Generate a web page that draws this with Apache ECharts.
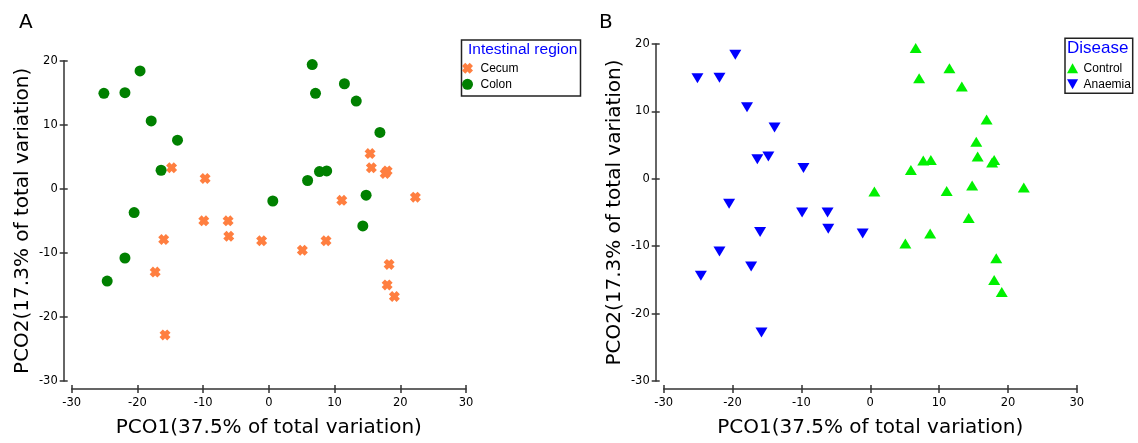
<!DOCTYPE html>
<html><head><meta charset="utf-8">
<script src="https://cdn.jsdelivr.net/npm/echarts@6/dist/echarts.min.js"></script>
<style>html,body{margin:0;padding:0;background:#fff}#c{width:1138px;height:443px}</style>
</head><body><div id="c"></div>
<script>
// ---- data ----
const panelLabels = ['A', 'B'];
const legendTitles = ['Intestinal region', 'Disease'];
const groupsA = ['Cecum', 'Colon'];
const groupsB = ['Control', 'Anaemia'];
const xName = 'PCO1(37.5% of total variation)';
const yName = 'PCO2(17.3% of total variation)';
const xRange = [-30, 30];
const yRange = [-30, 20];
const tickStep = 10;

// Panel A
const cecum = [[-14.8,3.3],[-9.7,1.6],[-9.9,-5.0],[-6.2,-5.0],[-6.1,-7.4],[-1.1,-8.1],[-16.0,-7.9],[-17.3,-13.0],[-15.8,-22.8],
  [15.4,5.5],[15.6,3.3],[17.7,2.4],[18.0,2.8],[11.1,-1.8],[22.3,-1.3],[5.1,-9.6],[8.7,-8.1],[18.3,-11.8],[18.0,-15.0],[19.1,-16.8]];
const colon = [[-25.1,14.9],[-21.9,15.0],[-19.6,18.4],[-17.9,10.6],[-13.9,7.6],[-16.4,2.9],[-20.5,-3.7],[-21.9,-10.8],[-24.6,-14.4],
  [0.6,-1.9],[5.9,1.3],[7.7,2.7],[8.8,2.8],[14.8,-1.0],[14.3,-5.8],[6.6,19.4],[11.5,16.4],[7.1,14.9],[13.3,13.7],[16.9,8.8]];
// Panel B
const control = [[0.6,-1.9],[5.9,1.3],[7.7,2.7],[8.8,2.8],[14.8,-1.0],[14.3,-5.8],[6.6,19.4],[11.5,16.4],[7.1,14.9],[13.3,13.7],[16.9,8.8],
  [15.4,5.5],[15.6,3.3],[17.7,2.4],[18.0,2.8],[11.1,-1.8],[22.3,-1.3],[5.1,-9.6],[8.7,-8.1],[18.3,-11.8],[18.0,-15.0],[19.1,-16.8]];
const anaemia = [[-25.1,14.9],[-21.9,15.0],[-19.6,18.4],[-17.9,10.6],[-13.9,7.6],[-16.4,2.9],[-20.5,-3.7],[-21.9,-10.8],[-24.6,-14.4],
  [-14.8,3.3],[-9.7,1.6],[-9.9,-5.0],[-6.2,-5.0],[-6.1,-7.4],[-1.1,-8.1],[-16.0,-7.9],[-17.3,-13.0],[-15.8,-22.8]];

// ---- styling ----
const AX = '#333';
const TICKFONT = {fontFamily: 'DejaVu Sans', fontSize: 11.5, color: '#000'};
const crossPath = 'path://M3,0 L5,2 L7,0 L10,3 L8,5 L10,7 L7,10 L5,8 L3,10 L0,7 L2,5 L0,3 Z';
const upTri = 'path://M5,0 L10,9 L0,9 Z';
const downTri = 'path://M0,0 L10,0 L5,9 Z';

function mainX(gi) {
  return {gridIndex: gi, type: 'value', position: 'bottom', offset: 8,
    min: xRange[0], max: xRange[1], interval: tickStep,
    axisLine: {show: true, onZero: false, lineStyle: {color: AX, width: 1.5}},
    axisTick: {show: true, length: 4, lineStyle: {color: AX, width: 1.5}},
    axisLabel: Object.assign({margin: 8}, TICKFONT),
    splitLine: {show: false},
    name: xName, nameLocation: 'middle', nameGap: 29,
    nameTextStyle: {fontFamily: 'DejaVu Sans', fontSize: 20, color: '#000'}};
}
function tickX(gi) {
  return {gridIndex: gi, type: 'value', position: 'bottom', offset: 8,
    min: xRange[0], max: xRange[1], interval: tickStep,
    axisLine: {show: false, onZero: false}, axisLabel: {show: false}, splitLine: {show: false},
    axisTick: {show: true, inside: true, length: 4, lineStyle: {color: AX, width: 1.5}}};
}
function mainY(gi) {
  return {gridIndex: gi, type: 'value', position: 'left', offset: 8,
    min: yRange[0], max: yRange[1], interval: tickStep,
    axisLine: {show: true, onZero: false, lineStyle: {color: AX, width: 1.5}},
    axisTick: {show: true, length: 4, lineStyle: {color: AX, width: 1.5}},
    axisLabel: Object.assign({margin: 6}, TICKFONT),
    splitLine: {show: false},
    name: yName, nameLocation: 'middle', nameGap: 31,
    nameTextStyle: {fontFamily: 'DejaVu Sans', fontSize: 20, color: '#000'}};
}
function tickY(gi) {
  return {gridIndex: gi, type: 'value', position: 'left', offset: 8,
    min: yRange[0], max: yRange[1], interval: tickStep,
    axisLine: {show: false, onZero: false}, axisLabel: {show: false}, splitLine: {show: false},
    axisTick: {show: true, inside: true, length: 4, lineStyle: {color: AX, width: 1.5}}};
}

const legendText = {fontFamily: 'Liberation Sans', fontSize: 12, color: '#000', lineHeight: 14};

const option = {
  animation: false,
  backgroundColor: '#fff',
  grid: [
    {left: 71.7, top: 60.7, width: 394.3, height: 325.1},
    {left: 663.7, top: 44, width: 413.1, height: 342}
  ],
  xAxis: [mainX(0), tickX(0), mainX(1), tickX(1)],
  yAxis: [mainY(0), tickY(0), mainY(1), tickY(1)],
  legend: [
    {data: groupsA, orient: 'vertical', left: 462, top: 61.3, padding: 0,
     itemWidth: 16, itemHeight: 11, itemGap: 2, selectedMode: false, textStyle: legendText},
    {data: groupsB, orient: 'vertical', left: 1067, top: 61.3, padding: 0,
     itemWidth: 12, itemHeight: 10, itemGap: 2, selectedMode: false, textStyle: legendText}
  ],
  series: [
    {name: groupsA[0], type: 'scatter', xAxisIndex: 0, yAxisIndex: 0, data: cecum,
     symbol: crossPath, symbolSize: 11, itemStyle: {color: '#ff7f40', opacity: 1}},
    {name: groupsA[1], type: 'scatter', xAxisIndex: 0, yAxisIndex: 0, data: colon,
     symbol: 'circle', symbolSize: 11, itemStyle: {color: '#008000', opacity: 1}},
    {name: groupsB[0], type: 'scatter', xAxisIndex: 2, yAxisIndex: 2, data: control,
     symbol: upTri, symbolSize: [12, 10], itemStyle: {color: '#00f000', opacity: 1}},
    {name: groupsB[1], type: 'scatter', xAxisIndex: 2, yAxisIndex: 2, data: anaemia,
     symbol: downTri, symbolSize: [12, 10], itemStyle: {color: '#0000ff', opacity: 1}}
  ],
  graphic: [
    {type: 'text', left: 19, top: 13, style: {text: panelLabels[0], font: '20px "DejaVu Sans"', fill: '#000'}},
    {type: 'text', left: 599, top: 13, style: {text: panelLabels[1], font: '20px "DejaVu Sans"', fill: '#000'}},
    {type: 'rect', shape: {x: 461.5, y: 40, width: 119, height: 56},
     style: {fill: 'none', stroke: '#222', lineWidth: 1.5}},
    {type: 'text', x: 468, y: 50, style: {text: legendTitles[0], font: '15.5px "Liberation Sans"', fill: '#0000ff', verticalAlign: 'middle'}},
    {type: 'rect', shape: {x: 1065, y: 38.3, width: 67.7, height: 55},
     style: {fill: 'none', stroke: '#222', lineWidth: 1.5}},
    {type: 'text', x: 1067, y: 48.5, style: {text: legendTitles[1], font: '17px "Liberation Sans"', fill: '#0000ff', verticalAlign: 'middle'}}
  ]
};

const chart = echarts.init(document.getElementById('c'), null, {renderer: 'canvas'});
chart.setOption(option);
</script>
</body></html>
